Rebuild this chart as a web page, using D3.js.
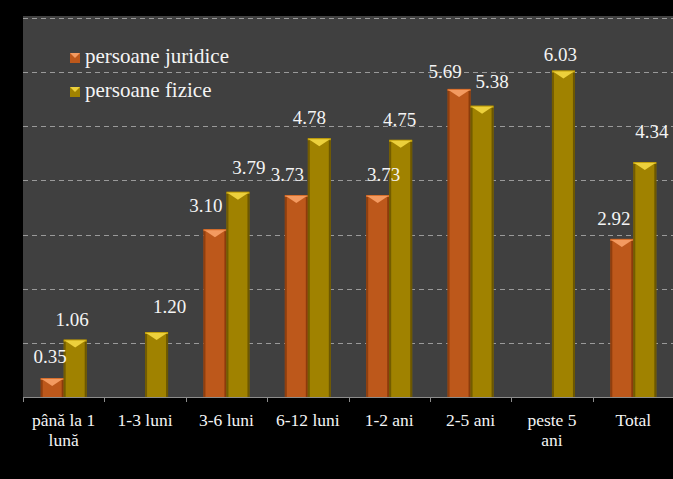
<!DOCTYPE html>
<html>
<head>
<meta charset="utf-8">
<script src="https://cdn.jsdelivr.net/npm/d3@7"></script>
<style>
  body { margin: 0; background: #000; }
  svg { display: block; }
  svg text { font-family: "Liberation Serif", "Times New Roman", "DejaVu Serif", serif; fill: #f4f4f4; }
</style>
</head>
<body>
<div id="chart"></div>
<script>
// data
var categories = ["până la 1 lună", "1-3 luni", "3-6 luni", "6-12 luni", "1-2 ani", "2-5 ani", "peste 5 ani", "Total"];
var categoryLines = [["până la 1", "lună"], ["1-3 luni"], ["3-6 luni"], ["6-12 luni"], ["1-2 ani"], ["2-5 ani"], ["peste 5", "ani"], ["Total"]];
var juridice = [0.35, null, 3.10, 3.73, 3.73, 5.69, null, 2.92];
var fizice = [1.06, 1.20, 3.79, 4.78, 4.75, 5.38, 6.03, 4.34];
var seriesNames = ["persoane juridice", "persoane fizice"];
var yTicks = [0, 1, 2, 3, 4, 5, 6, 7];

// label nudges (dx, gap above bar) so labels don't collide, as in the original
var nudgeJ = [[-2, 15], [0, 0], [-9, 17], [-9, 14], [6, 14], [-14, 11], [0, 0], [-8, 14]];
var nudgeF = [[-3, 14], [13, 19], [11, 18], [-10, 14], [-1, 14], [10, 18], [-3, 10], [7, 24]];

var W = 673, H = 479;
var plot = { left: 23, top: 18, right: 674, bottom: 397 };

var svg = d3.select("#chart").append("svg")
    .attr("width", W)
    .attr("height", H);

svg.append("rect").attr("width", W).attr("height", H).attr("fill", "#000");

svg.append("rect")
    .attr("x", plot.left).attr("y", plot.top - 2)
    .attr("width", W - plot.left).attr("height", plot.bottom - plot.top + 2)
    .attr("fill", "#404040");

var x = d3.scaleBand()
    .domain(categories)
    .range([plot.left, plot.right]);

var y = d3.scaleLinear()
    .domain([0, 7])
    .range([plot.bottom, plot.top]);

var barW = 23;
var inner = d3.scaleBand()
    .domain(seriesNames)
    .range([0, barW * 2]);
var innerOff = (x.bandwidth() - barW * 2) / 2;

// grid
svg.append("g")
    .selectAll("line")
    .data(yTicks.filter(function (d) { return d > 0; }))
    .enter().append("line")
    .attr("x1", plot.left).attr("x2", W)
    .attr("y1", function (d) { return Math.round(y(d)) + 0.5; })
    .attr("y2", function (d) { return Math.round(y(d)) + 0.5; })
    .attr("stroke", "#9a9a9a")
    .attr("stroke-dasharray", "5,4")
    .attr("stroke-width", 1);

var colors = {
    "persoane juridice": { body: "#bd581b", dark: "#7e3508", light: "#f39a60", mid: "#d9712f" },
    "persoane fizice": { body: "#a08200", dark: "#5f4c00", light: "#ecd03c", mid: "#c4a20e" }
};

function drawBar(g, x0, v, c) {
    var top = y(v), bot = y(0), w = barW;
    var bev = 8;
    g.append("rect").attr("x", x0).attr("y", top).attr("width", w).attr("height", bot - top)
        .attr("fill", c.body);
    // side shading
    g.append("rect").attr("x", x0).attr("y", top).attr("width", 2).attr("height", bot - top)
        .attr("fill", c.dark).attr("opacity", 0.7);
    g.append("rect").attr("x", x0 + w - 2).attr("y", top).attr("width", 2).attr("height", bot - top)
        .attr("fill", c.dark).attr("opacity", 0.8);
    // top bevel
    g.append("rect").attr("x", x0).attr("y", top).attr("width", w).attr("height", 2)
        .attr("fill", c.mid);
    g.append("path")
        .attr("d", "M" + (x0 + 1) + "," + (top + 1) + "L" + (x0 + w - 1) + "," + (top + 1) +
            "L" + (x0 + w / 2) + "," + (top + bev) + "Z")
        .attr("fill", c.light);
}

var bars = svg.append("g");
var labels = svg.append("g")
    .attr("font-size", "19px")
    .attr("text-anchor", "middle");

[juridice, fizice].forEach(function (vals, si) {
    var name = seriesNames[si];
    var nudge = si === 0 ? nudgeJ : nudgeF;
    vals.forEach(function (v, i) {
        if (v === null) return;
        var x0 = x(categories[i]) + innerOff + inner(name);
        drawBar(bars, x0, v, colors[name]);
        labels.append("text")
            .attr("x", x0 + barW / 2 + nudge[i][0])
            .attr("y", y(v) - nudge[i][1])
            .text(v.toFixed(2));
    });
});

// x axis
var axis = svg.append("g");
axis.append("line")
    .attr("x1", plot.left).attr("x2", W)
    .attr("y1", plot.bottom + 0.5).attr("y2", plot.bottom + 0.5)
    .attr("stroke", "#8c8c8c");
categories.forEach(function (c, i) {
    var xx = Math.round(x(c)) + 0.5;
    axis.append("line")
        .attr("x1", xx).attr("x2", xx)
        .attr("y1", plot.bottom).attr("y2", plot.bottom + 5)
        .attr("stroke", "#8c8c8c");
    var t = axis.append("text")
        .attr("x", x(c) + x.bandwidth() / 2)
        .attr("y", 426)
        .attr("text-anchor", "middle")
        .attr("font-size", "17.5px");
    categoryLines[i].forEach(function (line, k) {
        t.append("tspan")
            .attr("x", x(c) + x.bandwidth() / 2)
            .attr("dy", k === 0 ? 0 : 20)
            .text(line);
    });
});

// legend
var legend = svg.append("g");
seriesNames.forEach(function (name, i) {
    var ly = 63 + i * 34;
    var c = colors[name];
    legend.append("rect").attr("x", 70).attr("y", ly - 10).attr("width", 10).attr("height", 10)
        .attr("fill", c.body);
    legend.append("path")
        .attr("d", "M70," + (ly - 10) + "L80," + (ly - 10) + "L75," + (ly - 5) + "Z")
        .attr("fill", c.light);
    legend.append("text")
        .attr("x", 85).attr("y", ly)
        .attr("font-size", "21px")
        .text(name);
});
</script>
</body>
</html>
